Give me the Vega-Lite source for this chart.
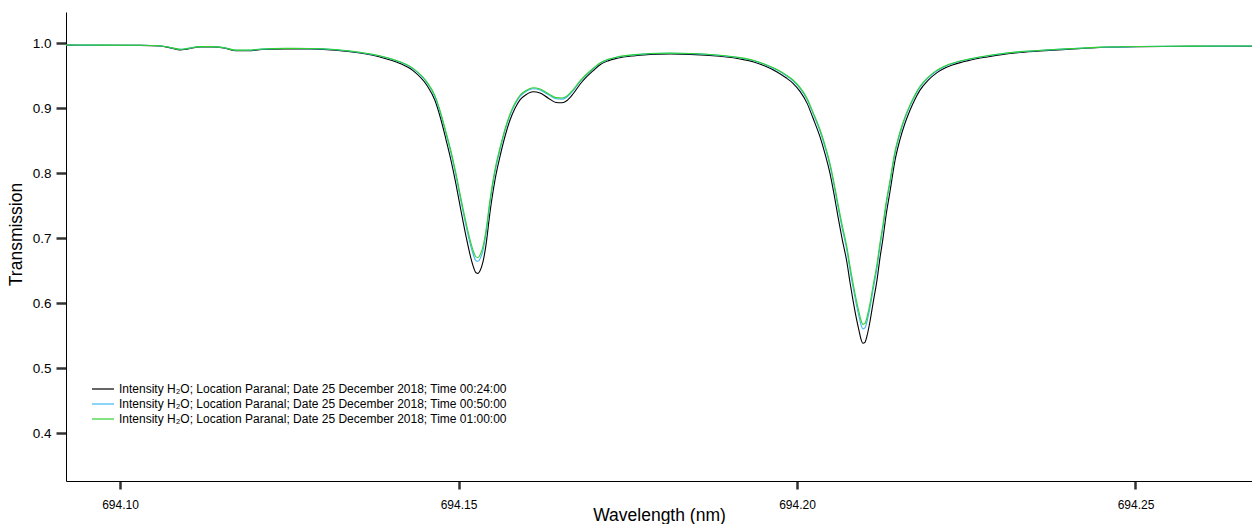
{
  "$schema": "https://vega.github.io/schema/vega-lite/v6.json",
  "width": 1186,
  "height": 469,
  "autosize": {"type": "none"},
  "padding": {"left": 66, "top": 12, "right": 0, "bottom": 43},
  "background": "white",
  "config": {
    "view": {"stroke": null},
    "font": "Liberation Sans",
    "axis": {"ticks": true, "tickColor": "#333", "tickWidth": 2.5, "tickOpacity": 1},
    "axisX": {"ticks": true, "tickSize": 8, "tickColor": "#333", "tickWidth": 2.5},
    "axisY": {"ticks": true, "tickSize": 10, "tickColor": "#333", "tickWidth": 2.5}
  },
  "data": {
    "values": [
      {"wl":694.09202,"s":"00:24:00","T":0.9972},{"wl":694.09705,"s":"00:24:00","T":0.9970},{"wl":694.10295,"s":"00:24:00","T":0.9968},{"wl":694.10591,"s":"00:24:00","T":0.9960},{"wl":694.10768,"s":"00:24:00","T":0.9925},{"wl":694.10886,"s":"00:24:00","T":0.9900},{"wl":694.11004,"s":"00:24:00","T":0.9915},{"wl":694.11182,"s":"00:24:00","T":0.9945},{"wl":694.11359,"s":"00:24:00","T":0.9945},{"wl":694.11551,"s":"00:24:00","T":0.9925},{"wl":694.11713,"s":"00:24:00","T":0.9885},{"wl":694.11891,"s":"00:24:00","T":0.9885},{"wl":694.12097,"s":"00:24:00","T":0.9905},{"wl":694.12437,"s":"00:24:00","T":0.9915},{"wl":694.12806,"s":"00:24:00","T":0.9912},{"wl":694.13176,"s":"00:24:00","T":0.9895},{"wl":694.13545,"s":"00:24:00","T":0.9850},{"wl":694.13840,"s":"00:24:00","T":0.9790},{"wl":694.14136,"s":"00:24:00","T":0.969},{"wl":694.14328,"s":"00:24:00","T":0.958},{"wl":694.14535,"s":"00:24:00","T":0.935},{"wl":694.14653,"s":"00:24:00","T":0.912},{"wl":694.14742,"s":"00:24:00","T":0.882},{"wl":694.14815,"s":"00:24:00","T":0.852},{"wl":694.14889,"s":"00:24:00","T":0.820},{"wl":694.14963,"s":"00:24:00","T":0.783},{"wl":694.15037,"s":"00:24:00","T":0.742},{"wl":694.15111,"s":"00:24:00","T":0.703},{"wl":694.15170,"s":"00:24:00","T":0.675},{"wl":694.15214,"s":"00:24:00","T":0.658},{"wl":694.15258,"s":"00:24:00","T":0.647},{"wl":694.15288,"s":"00:24:00","T":0.646},{"wl":694.15318,"s":"00:24:00","T":0.650},{"wl":694.15362,"s":"00:24:00","T":0.664},{"wl":694.15406,"s":"00:24:00","T":0.690},{"wl":694.15465,"s":"00:24:00","T":0.740},{"wl":694.15539,"s":"00:24:00","T":0.790},{"wl":694.15613,"s":"00:24:00","T":0.826},{"wl":694.15687,"s":"00:24:00","T":0.857},{"wl":694.15761,"s":"00:24:00","T":0.882},{"wl":694.15835,"s":"00:24:00","T":0.900},{"wl":694.15908,"s":"00:24:00","T":0.913},{"wl":694.15997,"s":"00:24:00","T":0.921},{"wl":694.16100,"s":"00:24:00","T":0.9255},{"wl":694.16204,"s":"00:24:00","T":0.9235},{"wl":694.16322,"s":"00:24:00","T":0.916},{"wl":694.16440,"s":"00:24:00","T":0.909},{"wl":694.16529,"s":"00:24:00","T":0.9085},{"wl":694.16603,"s":"00:24:00","T":0.912},{"wl":694.16691,"s":"00:24:00","T":0.922},{"wl":694.16795,"s":"00:24:00","T":0.937},{"wl":694.16898,"s":"00:24:00","T":0.949},{"wl":694.17001,"s":"00:24:00","T":0.959},{"wl":694.17090,"s":"00:24:00","T":0.967},{"wl":694.17208,"s":"00:24:00","T":0.973},{"wl":694.17341,"s":"00:24:00","T":0.977},{"wl":694.17607,"s":"00:24:00","T":0.981},{"wl":694.17829,"s":"00:24:00","T":0.983},{"wl":694.18124,"s":"00:24:00","T":0.9835},{"wl":694.18420,"s":"00:24:00","T":0.983},{"wl":694.18863,"s":"00:24:00","T":0.980},{"wl":694.19158,"s":"00:24:00","T":0.976},{"wl":694.19350,"s":"00:24:00","T":0.9717},{"wl":694.19527,"s":"00:24:00","T":0.965},{"wl":694.19705,"s":"00:24:00","T":0.956},{"wl":694.19838,"s":"00:24:00","T":0.947},{"wl":694.19941,"s":"00:24:00","T":0.9385},{"wl":694.20044,"s":"00:24:00","T":0.926},{"wl":694.20148,"s":"00:24:00","T":0.908},{"wl":694.20236,"s":"00:24:00","T":0.885},{"wl":694.20340,"s":"00:24:00","T":0.856},{"wl":694.20414,"s":"00:24:00","T":0.830},{"wl":694.20487,"s":"00:24:00","T":0.800},{"wl":694.20547,"s":"00:24:00","T":0.768},{"wl":694.20606,"s":"00:24:00","T":0.733},{"wl":694.20665,"s":"00:24:00","T":0.700},{"wl":694.20739,"s":"00:24:00","T":0.662},{"wl":694.20783,"s":"00:24:00","T":0.632},{"wl":694.20827,"s":"00:24:00","T":0.605},{"wl":694.20871,"s":"00:24:00","T":0.580},{"wl":694.20916,"s":"00:24:00","T":0.558},{"wl":694.20945,"s":"00:24:00","T":0.545},{"wl":694.20975,"s":"00:24:00","T":0.5385},{"wl":694.21004,"s":"00:24:00","T":0.540},{"wl":694.21034,"s":"00:24:00","T":0.550},{"wl":694.21078,"s":"00:24:00","T":0.572},{"wl":694.21123,"s":"00:24:00","T":0.600},{"wl":694.21182,"s":"00:24:00","T":0.636},{"wl":694.21226,"s":"00:24:00","T":0.670},{"wl":694.21270,"s":"00:24:00","T":0.700},{"wl":694.21315,"s":"00:24:00","T":0.735},{"wl":694.21374,"s":"00:24:00","T":0.772},{"wl":694.21448,"s":"00:24:00","T":0.820},{"wl":694.21521,"s":"00:24:00","T":0.852},{"wl":694.21595,"s":"00:24:00","T":0.877},{"wl":694.21669,"s":"00:24:00","T":0.897},{"wl":694.21743,"s":"00:24:00","T":0.914},{"wl":694.21817,"s":"00:24:00","T":0.928},{"wl":694.21935,"s":"00:24:00","T":0.943},{"wl":694.22068,"s":"00:24:00","T":0.955},{"wl":694.22186,"s":"00:24:00","T":0.962},{"wl":694.22304,"s":"00:24:00","T":0.967},{"wl":694.22555,"s":"00:24:00","T":0.974},{"wl":694.22806,"s":"00:24:00","T":0.979},{"wl":694.23043,"s":"00:24:00","T":0.983},{"wl":694.23294,"s":"00:24:00","T":0.986},{"wl":694.23663,"s":"00:24:00","T":0.9888},{"wl":694.24032,"s":"00:24:00","T":0.991},{"wl":694.24476,"s":"00:24:00","T":0.9935},{"wl":694.25066,"s":"00:24:00","T":0.9948},{"wl":694.25805,"s":"00:24:00","T":0.9953},{"wl":694.26721,"s":"00:24:00","T":0.9955},

      {"wl":694.09202,"s":"00:50:00","T":0.9974},{"wl":694.09705,"s":"00:50:00","T":0.9972},{"wl":694.10295,"s":"00:50:00","T":0.9970},{"wl":694.10591,"s":"00:50:00","T":0.9963},{"wl":694.10768,"s":"00:50:00","T":0.9930},{"wl":694.10886,"s":"00:50:00","T":0.9907},{"wl":694.11004,"s":"00:50:00","T":0.9921},{"wl":694.11182,"s":"00:50:00","T":0.9949},{"wl":694.11359,"s":"00:50:00","T":0.9949},{"wl":694.11551,"s":"00:50:00","T":0.9930},{"wl":694.11713,"s":"00:50:00","T":0.9893},{"wl":694.11891,"s":"00:50:00","T":0.9893},{"wl":694.12097,"s":"00:50:00","T":0.9911},{"wl":694.12437,"s":"00:50:00","T":0.9921},{"wl":694.12806,"s":"00:50:00","T":0.9918},{"wl":694.13176,"s":"00:50:00","T":0.9902},{"wl":694.13545,"s":"00:50:00","T":0.9860},{"wl":694.13840,"s":"00:50:00","T":0.9804},{"wl":694.14136,"s":"00:50:00","T":0.9710},{"wl":694.14328,"s":"00:50:00","T":0.9607},{"wl":694.14535,"s":"00:50:00","T":0.9391},{"wl":694.14653,"s":"00:50:00","T":0.9175},{"wl":694.14742,"s":"00:50:00","T":0.8892},{"wl":694.14815,"s":"00:50:00","T":0.8609},{"wl":694.14889,"s":"00:50:00","T":0.8307},{"wl":694.14963,"s":"00:50:00","T":0.7956},{"wl":694.15037,"s":"00:50:00","T":0.7565},{"wl":694.15111,"s":"00:50:00","T":0.7193},{"wl":694.15170,"s":"00:50:00","T":0.6925},{"wl":694.15214,"s":"00:50:00","T":0.6762},{"wl":694.15258,"s":"00:50:00","T":0.6656},{"wl":694.15288,"s":"00:50:00","T":0.6646},{"wl":694.15318,"s":"00:50:00","T":0.6685},{"wl":694.15362,"s":"00:50:00","T":0.6819},{"wl":694.15406,"s":"00:50:00","T":0.7069},{"wl":694.15465,"s":"00:50:00","T":0.7546},{"wl":694.15539,"s":"00:50:00","T":0.8022},{"wl":694.15613,"s":"00:50:00","T":0.8363},{"wl":694.15687,"s":"00:50:00","T":0.8656},{"wl":694.15761,"s":"00:50:00","T":0.8892},{"wl":694.15835,"s":"00:50:00","T":0.9062},{"wl":694.15908,"s":"00:50:00","T":0.9184},{"wl":694.15997,"s":"00:50:00","T":0.9259},{"wl":694.16100,"s":"00:50:00","T":0.9302},{"wl":694.16204,"s":"00:50:00","T":0.9283},{"wl":694.16322,"s":"00:50:00","T":0.9212},{"wl":694.16440,"s":"00:50:00","T":0.9147},{"wl":694.16529,"s":"00:50:00","T":0.9142},{"wl":694.16603,"s":"00:50:00","T":0.9175},{"wl":694.16691,"s":"00:50:00","T":0.9269},{"wl":694.16795,"s":"00:50:00","T":0.9410},{"wl":694.16898,"s":"00:50:00","T":0.9522},{"wl":694.17001,"s":"00:50:00","T":0.9616},{"wl":694.17090,"s":"00:50:00","T":0.9691},{"wl":694.17208,"s":"00:50:00","T":0.9747},{"wl":694.17341,"s":"00:50:00","T":0.9785},{"wl":694.17607,"s":"00:50:00","T":0.9822},{"wl":694.17829,"s":"00:50:00","T":0.9841},{"wl":694.18124,"s":"00:50:00","T":0.9846},{"wl":694.18420,"s":"00:50:00","T":0.9841},{"wl":694.18863,"s":"00:50:00","T":0.9813},{"wl":694.19158,"s":"00:50:00","T":0.9775},{"wl":694.19350,"s":"00:50:00","T":0.9735},{"wl":694.19527,"s":"00:50:00","T":0.9672},{"wl":694.19705,"s":"00:50:00","T":0.9588},{"wl":694.19838,"s":"00:50:00","T":0.9504},{"wl":694.19941,"s":"00:50:00","T":0.9424},{"wl":694.20044,"s":"00:50:00","T":0.9306},{"wl":694.20148,"s":"00:50:00","T":0.9137},{"wl":694.20236,"s":"00:50:00","T":0.8921},{"wl":694.20340,"s":"00:50:00","T":0.8647},{"wl":694.20414,"s":"00:50:00","T":0.8401},{"wl":694.20487,"s":"00:50:00","T":0.8117},{"wl":694.20547,"s":"00:50:00","T":0.7813},{"wl":694.20606,"s":"00:50:00","T":0.7480},{"wl":694.20665,"s":"00:50:00","T":0.7164},{"wl":694.20739,"s":"00:50:00","T":0.6800},{"wl":694.20783,"s":"00:50:00","T":0.6511},{"wl":694.20827,"s":"00:50:00","T":0.6251},{"wl":694.20871,"s":"00:50:00","T":0.6009},{"wl":694.20916,"s":"00:50:00","T":0.5796},{"wl":694.20945,"s":"00:50:00","T":0.5669},{"wl":694.20975,"s":"00:50:00","T":0.5606},{"wl":694.21004,"s":"00:50:00","T":0.5621},{"wl":694.21034,"s":"00:50:00","T":0.5718},{"wl":694.21078,"s":"00:50:00","T":0.5932},{"wl":694.21123,"s":"00:50:00","T":0.6203},{"wl":694.21182,"s":"00:50:00","T":0.6550},{"wl":694.21226,"s":"00:50:00","T":0.6877},{"wl":694.21270,"s":"00:50:00","T":0.7164},{"wl":694.21315,"s":"00:50:00","T":0.7499},{"wl":694.21374,"s":"00:50:00","T":0.7851},{"wl":694.21448,"s":"00:50:00","T":0.8307},{"wl":694.21521,"s":"00:50:00","T":0.8609},{"wl":694.21595,"s":"00:50:00","T":0.8845},{"wl":694.21669,"s":"00:50:00","T":0.9034},{"wl":694.21743,"s":"00:50:00","T":0.9194},{"wl":694.21817,"s":"00:50:00","T":0.9325},{"wl":694.21935,"s":"00:50:00","T":0.9466},{"wl":694.22068,"s":"00:50:00","T":0.9579},{"wl":694.22186,"s":"00:50:00","T":0.9644},{"wl":694.22304,"s":"00:50:00","T":0.9691},{"wl":694.22555,"s":"00:50:00","T":0.9757},{"wl":694.22806,"s":"00:50:00","T":0.9804},{"wl":694.23043,"s":"00:50:00","T":0.9841},{"wl":694.23294,"s":"00:50:00","T":0.9869},{"wl":694.23663,"s":"00:50:00","T":0.9895},{"wl":694.24032,"s":"00:50:00","T":0.9916},{"wl":694.24476,"s":"00:50:00","T":0.9939},{"wl":694.25066,"s":"00:50:00","T":0.9951},{"wl":694.25805,"s":"00:50:00","T":0.9956},{"wl":694.26721,"s":"00:50:00","T":0.9958},

      {"wl":694.09202,"s":"01:00:00","T":0.9974},{"wl":694.09705,"s":"01:00:00","T":0.9973},{"wl":694.10295,"s":"01:00:00","T":0.9971},{"wl":694.10591,"s":"01:00:00","T":0.9963},{"wl":694.10768,"s":"01:00:00","T":0.9931},{"wl":694.10886,"s":"01:00:00","T":0.9909},{"wl":694.11004,"s":"01:00:00","T":0.9922},{"wl":694.11182,"s":"01:00:00","T":0.9950},{"wl":694.11359,"s":"01:00:00","T":0.9950},{"wl":694.11551,"s":"01:00:00","T":0.9931},{"wl":694.11713,"s":"01:00:00","T":0.9895},{"wl":694.11891,"s":"01:00:00","T":0.9895},{"wl":694.12097,"s":"01:00:00","T":0.9913},{"wl":694.12437,"s":"01:00:00","T":0.9922},{"wl":694.12806,"s":"01:00:00","T":0.9920},{"wl":694.13176,"s":"01:00:00","T":0.9904},{"wl":694.13545,"s":"01:00:00","T":0.9863},{"wl":694.13840,"s":"01:00:00","T":0.9808},{"wl":694.14136,"s":"01:00:00","T":0.9716},{"wl":694.14328,"s":"01:00:00","T":0.9615},{"wl":694.14535,"s":"01:00:00","T":0.9404},{"wl":694.14653,"s":"01:00:00","T":0.9192},{"wl":694.14742,"s":"01:00:00","T":0.8915},{"wl":694.14815,"s":"01:00:00","T":0.8637},{"wl":694.14889,"s":"01:00:00","T":0.8340},{"wl":694.14963,"s":"01:00:00","T":0.7995},{"wl":694.15037,"s":"01:00:00","T":0.7611},{"wl":694.15111,"s":"01:00:00","T":0.7244},{"wl":694.15170,"s":"01:00:00","T":0.6979},{"wl":694.15214,"s":"01:00:00","T":0.6818},{"wl":694.15258,"s":"01:00:00","T":0.6714},{"wl":694.15288,"s":"01:00:00","T":0.6704},{"wl":694.15318,"s":"01:00:00","T":0.6743},{"wl":694.15362,"s":"01:00:00","T":0.6875},{"wl":694.15406,"s":"01:00:00","T":0.7121},{"wl":694.15465,"s":"01:00:00","T":0.7592},{"wl":694.15539,"s":"01:00:00","T":0.8060},{"wl":694.15613,"s":"01:00:00","T":0.8395},{"wl":694.15687,"s":"01:00:00","T":0.8683},{"wl":694.15761,"s":"01:00:00","T":0.8915},{"wl":694.15835,"s":"01:00:00","T":0.9081},{"wl":694.15908,"s":"01:00:00","T":0.9201},{"wl":694.15997,"s":"01:00:00","T":0.9275},{"wl":694.16100,"s":"01:00:00","T":0.9316},{"wl":694.16204,"s":"01:00:00","T":0.9298},{"wl":694.16322,"s":"01:00:00","T":0.9229},{"wl":694.16440,"s":"01:00:00","T":0.9164},{"wl":694.16529,"s":"01:00:00","T":0.9159},{"wl":694.16603,"s":"01:00:00","T":0.9192},{"wl":694.16691,"s":"01:00:00","T":0.9284},{"wl":694.16795,"s":"01:00:00","T":0.9422},{"wl":694.16898,"s":"01:00:00","T":0.9532},{"wl":694.17001,"s":"01:00:00","T":0.9624},{"wl":694.17090,"s":"01:00:00","T":0.9698},{"wl":694.17208,"s":"01:00:00","T":0.9753},{"wl":694.17341,"s":"01:00:00","T":0.9789},{"wl":694.17607,"s":"01:00:00","T":0.9826},{"wl":694.17829,"s":"01:00:00","T":0.9844},{"wl":694.18124,"s":"01:00:00","T":0.9849},{"wl":694.18420,"s":"01:00:00","T":0.9844},{"wl":694.18863,"s":"01:00:00","T":0.9817},{"wl":694.19158,"s":"01:00:00","T":0.9780},{"wl":694.19350,"s":"01:00:00","T":0.9741},{"wl":694.19527,"s":"01:00:00","T":0.9679},{"wl":694.19705,"s":"01:00:00","T":0.9597},{"wl":694.19838,"s":"01:00:00","T":0.9514},{"wl":694.19941,"s":"01:00:00","T":0.9436},{"wl":694.20044,"s":"01:00:00","T":0.9321},{"wl":694.20148,"s":"01:00:00","T":0.9155},{"wl":694.20236,"s":"01:00:00","T":0.8942},{"wl":694.20340,"s":"01:00:00","T":0.8674},{"wl":694.20414,"s":"01:00:00","T":0.8433},{"wl":694.20487,"s":"01:00:00","T":0.8153},{"wl":694.20547,"s":"01:00:00","T":0.7854},{"wl":694.20606,"s":"01:00:00","T":0.7526},{"wl":694.20665,"s":"01:00:00","T":0.7215},{"wl":694.20739,"s":"01:00:00","T":0.6856},{"wl":694.20783,"s":"01:00:00","T":0.6571},{"wl":694.20827,"s":"01:00:00","T":0.6314},{"wl":694.20871,"s":"01:00:00","T":0.6075},{"wl":694.20916,"s":"01:00:00","T":0.5864},{"wl":694.20945,"s":"01:00:00","T":0.5739},{"wl":694.20975,"s":"01:00:00","T":0.5676},{"wl":694.21004,"s":"01:00:00","T":0.5690},{"wl":694.21034,"s":"01:00:00","T":0.5787},{"wl":694.21078,"s":"01:00:00","T":0.5998},{"wl":694.21123,"s":"01:00:00","T":0.6266},{"wl":694.21182,"s":"01:00:00","T":0.6609},{"wl":694.21226,"s":"01:00:00","T":0.6932},{"wl":694.21270,"s":"01:00:00","T":0.7215},{"wl":694.21315,"s":"01:00:00","T":0.7545},{"wl":694.21374,"s":"01:00:00","T":0.7892},{"wl":694.21448,"s":"01:00:00","T":0.8340},{"wl":694.21521,"s":"01:00:00","T":0.8637},{"wl":694.21595,"s":"01:00:00","T":0.8868},{"wl":694.21669,"s":"01:00:00","T":0.9053},{"wl":694.21743,"s":"01:00:00","T":0.9210},{"wl":694.21817,"s":"01:00:00","T":0.9339},{"wl":694.21935,"s":"01:00:00","T":0.9477},{"wl":694.22068,"s":"01:00:00","T":0.9588},{"wl":694.22186,"s":"01:00:00","T":0.9652},{"wl":694.22304,"s":"01:00:00","T":0.9698},{"wl":694.22555,"s":"01:00:00","T":0.9762},{"wl":694.22806,"s":"01:00:00","T":0.9808},{"wl":694.23043,"s":"01:00:00","T":0.9844},{"wl":694.23294,"s":"01:00:00","T":0.9872},{"wl":694.23663,"s":"01:00:00","T":0.9898},{"wl":694.24032,"s":"01:00:00","T":0.9918},{"wl":694.24476,"s":"01:00:00","T":0.9941},{"wl":694.25066,"s":"01:00:00","T":0.9952},{"wl":694.25805,"s":"01:00:00","T":0.9957},{"wl":694.26721,"s":"01:00:00","T":0.9959}
    ]
  },
  "mark": {"type": "line", "strokeWidth": 1.1, "interpolate": "monotone"},
  "encoding": {
    "x": {
      "field": "wl", "type": "quantitative",
      "scale": {"domain": [694.09202, 694.26721], "nice": false, "zero": false},
      "axis": {
        "values": [694.1, 694.15, 694.2, 694.25], "format": ".2f",
        "title": "Wavelength (nm)", "grid": false,
        "domainColor": "black", "domainWidth": 1,
        "labelPadding": 10, "labelFontSize": 12, "labelColor": "black", "labelFont": "Liberation Sans",
        "titleFontSize": 17.5, "titleFontWeight": "normal", "titleColor": "black", "titleFont": "Liberation Sans",
        "titleY": 34, "titleBaseline": "middle"
      }
    },
    "y": {
      "field": "T", "type": "quantitative",
      "scale": {"domain": [0.3266, 1.0482], "nice": false, "zero": false},
      "axis": {
        "values": [0.4, 0.5, 0.6, 0.7, 0.8, 0.9, 1.0], "format": ".1f",
        "title": "Transmission", "grid": false,
        "domainColor": "black", "domainWidth": 1,
        "labelPadding": 5, "labelFontSize": 13.5, "labelColor": "black", "labelFont": "Liberation Sans",
        "titleFontSize": 17.5, "titleFontWeight": "normal", "titleColor": "black", "titleFont": "Liberation Sans",
        "titleX": -50, "titleY": 222, "titleAngle": -90, "titleAlign": "center", "titleBaseline": "middle"
      }
    },
    "color": {
      "field": "s", "type": "nominal",
      "scale": {"domain": ["00:24:00", "00:50:00", "01:00:00"], "range": ["#000000", "#3cb8f2", "#2fd12f"]},
      "legend": {
        "orient": "none", "legendX": 26, "legendY": 371, "title": null,
        "symbolType": "M-2.75,0H2.75", "symbolSize": 64, "symbolStrokeWidth": 1.2, "symbolOffset": 5,
        "labelOffset": 10, "labelFontSize": 12, "labelFont": "Liberation Sans", "labelColor": "black",
        "labelLimit": 0, "rowPadding": 3, "padding": 0,
        "labelExpr": "'Intensity H₂O; Location Paranal; Date 25 December 2018; Time ' + datum.label"
      }
    }
  }
}
